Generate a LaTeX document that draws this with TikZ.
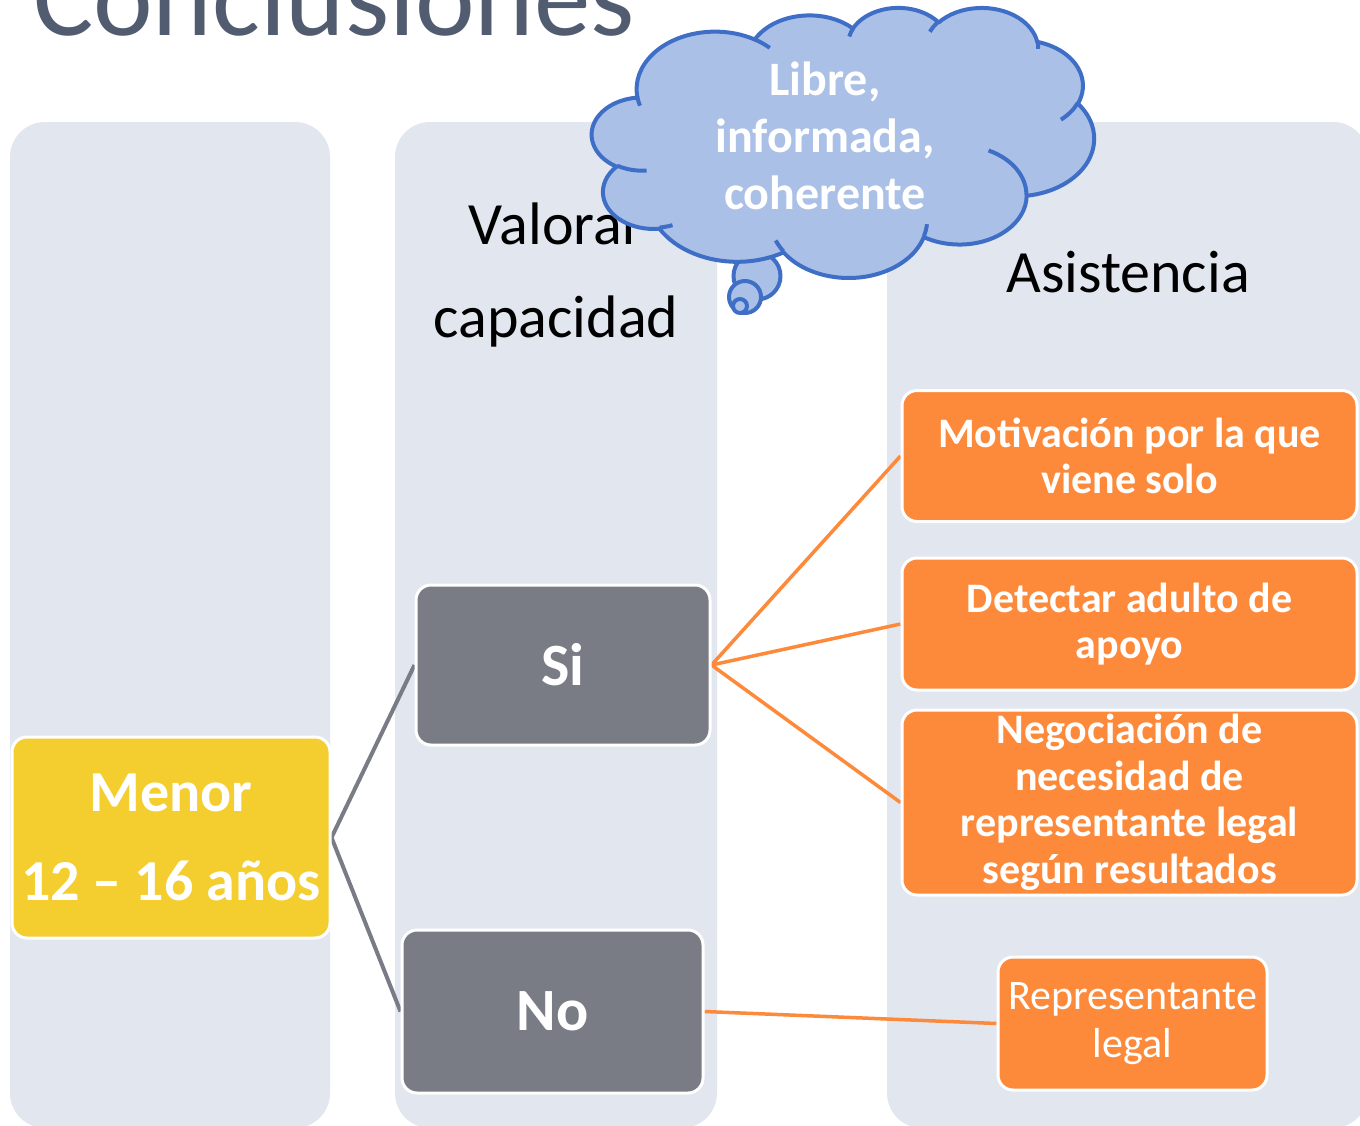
\documentclass[tikz,border=0pt]{standalone}
\usepackage{fontspec}
\setmainfont{Carlito}
\definecolor{colbg}{HTML}{E1E6EF}
\definecolor{titlec}{HTML}{525C70}
\definecolor{grayb}{HTML}{797C85}
\definecolor{yellowb}{HTML}{F4CD2F}
\definecolor{orangeb}{HTML}{FD8A3A}
\definecolor{cloudf}{HTML}{AAC0E7}
\definecolor{clouds}{HTML}{3F6EC6}
\pgfdeclarelayer{bglayer}
\pgfdeclarelayer{connlayer}
\pgfsetlayers{bglayer,connlayer,main}
% OOXML-style arcTo: wR hR (1/100 units), start angle, sweep (degrees)
\newcommand\ooarc[4]{\pgfextra{%
  \pgfmathsetmacro\ooA{atan2((#1)*sin(#3),(#2)*cos(#3))}%
  \pgfmathsetmacro\ooB{atan2((#1)*sin(#3+#4),(#2)*cos(#3+#4))}%
  \pgfmathsetmacro\ooD{\ooB-\ooA}%
  \pgfmathsetmacro\ooD{ifthenelse(#4>0,ifthenelse(\ooD<0,\ooD+360,\ooD),ifthenelse(\ooD>0,\ooD-360,\ooD))}%
  } arc[start angle=\ooA, delta angle=\ooD, x radius=#1, y radius=#2]}
\tikzset{
  colbox/.style={fill=colbg, rounded corners=35pt},
  boxbase/.style={rounded corners=15pt, draw=white, line width=3pt, text=white, align=center, inner sep=0pt},
  ybox/.style={boxbase, fill=yellowb, font=\bfseries\fontsize{58}{89}\selectfont},
  gbox/.style={boxbase, fill=grayb, font=\bfseries\fontsize{60}{72}\selectfont},
  obox/.style={boxbase, fill=orangeb, font=\bfseries\fontsize{42}{46.5}\selectfont},
  oboxr/.style={boxbase, fill=orangeb, font=\fontsize{42}{48}\selectfont},
  header/.style={font=\fontsize{60}{93}\selectfont, align=center, inner sep=0pt},
  glink/.style={draw=grayb, line width=4pt},
  olink/.style={draw=orangeb, line width=3.5pt},
  cloudsty/.style={fill=cloudf, draw=clouds, line width=4pt, line join=round},
  stubsty/.style={draw=clouds, line width=4pt, line cap=butt}
}
\begin{document}
\begin{tikzpicture}[x=1pt, y=-1pt]
\useasboundingbox (0,0) rectangle (1360,1125);
\clip (0,0) rectangle (1360,1125);
\begin{pgfonlayer}{bglayer}
\fill[white] (0,0) rectangle (1360,1125);
% columns
\path[colbox] (10,122) rectangle (330,1128);
\path[colbox] (395,122) rectangle (717,1128);
\path[colbox] (887,122) rectangle (1368,1128);
\end{pgfonlayer}
% headers
\node[header] (hval) at (556,275) {Valorar\\capacidad};
\node[header, anchor=base] (hasi) at (1128,292) {Asistencia};
% boxes
\node[ybox, minimum width=318pt, minimum height=201pt] (menor) at (171,837.5) {Menor\\12 – 16 años};
\node[gbox, minimum width=294pt, minimum height=160pt] (si) at (563,665) {Si};
\node[gbox, minimum width=301pt, minimum height=163pt] (no) at (552.5,1011.5) {No};
\node[obox, minimum width=455pt, minimum height=131pt] (m1) at (1129.5,456) {Motivación por la que\\viene solo};
\node[obox, minimum width=455pt, minimum height=132pt] (m2) at (1129.5,624) {Detectar adulto de\\apoyo};
\node[obox, minimum width=455pt, minimum height=185pt] (m3) at (1129.5,802.5) {Negociación de\\necesidad de\\representante legal\\según resultados};
\node[oboxr, minimum width=269pt, minimum height=133pt] (m4) at (1132.5,1023.5) {Representante\\legal};
% connectors
\begin{pgfonlayer}{connlayer}
\path[glink] (menor.east) -- (si.west);
\path[glink] (menor.east) -- (no.west);
\path[olink] (si.east) -- (m1.west);
\path[olink] (si.east) -- (m2.west);
\path[olink] (si.east) -- (m3.west);
\path[olink] (no.east) -- (m4.west);
\end{pgfonlayer}
% thought bubbles
\draw[cloudsty] (757,276) circle[radius=23.5];
\draw[cloudsty] (745,297) circle[radius=16];
\draw[cloudsty] (740,306) circle[radius=7];
% cloud
\begin{scope}[shift={(592,7)}, xscale=502/432, yscale=270/432]
\path[cloudsty] (39.00,143.70)
  \ooarc{67.53}{91.90}{-190.4875}{123.7805}
  \ooarc{53.33}{72.67}{-144.1024}{89.9452}
  \ooarc{43.65}{59.45}{-145.8079}{99.7230}
  \ooarc{48.57}{65.95}{-130.9861}{117.2417}
  \ooarc{53.33}{72.73}{-78.7089}{109.0269}
  \ooarc{67.75}{92.20}{-46.2673}{130.2690}
  \ooarc{57.85}{78.67}{0.6250}{114.0333}
  \ooarc{67.52}{92.15}{22.4516}{115.1726}
  \ooarc{77.20}{105.43}{66.2426}{75.7110}
  \ooarc{43.60}{59.18}{-274.9421}{146.7356}
  \ooarc{43.45}{59.45}{-246.8285}{152.5189}
  -- cycle;
\path[stubsty]
  (46.93,261.77) \ooarc{43.45}{59.45}{86.7420}{26.4295}
  (69.28,348.99) \ooarc{43.60}{59.18}{73.6105}{11.4475}
  (164.78,390.90) \ooarc{67.52}{92.15}{137.6242}{14.0811}
  (288.27,347.51) \ooarc{67.52}{92.15}{6.4533}{15.9984}
  (341.29,229.54) \ooarc{57.85}{78.67}{-70.2924}{70.9174}
  (417.98,153.54) \ooarc{53.33}{72.73}{30.3180}{27.7515}
  (383.24,54.26) \ooarc{48.57}{65.95}{-13.7443}{14.8589}
  (290.78,39.52) \ooarc{48.57}{65.95}{-149.1815}{18.1954}
  (221.41,47.20) \ooarc{43.65}{59.45}{-163.4943}{17.6864}
  (140.00,51.92) \ooarc{67.53}{91.90}{-66.7070}{12.3194}
  (41.27,157.89) \ooarc{67.53}{91.90}{157.6544}{11.8582};
\end{scope}
\node[text=white, align=center, inner sep=0pt, font=\bfseries\fontsize{48}{57}\selectfont] (ctext) at (825,136) {Libre,\\informada,\\coherente};
% title
\node[anchor=base west, inner sep=0pt, text=titlec, font=\fontsize{113}{120}\selectfont] (title) at (33,35) {Conclusiones};
\end{tikzpicture}
\end{document}
